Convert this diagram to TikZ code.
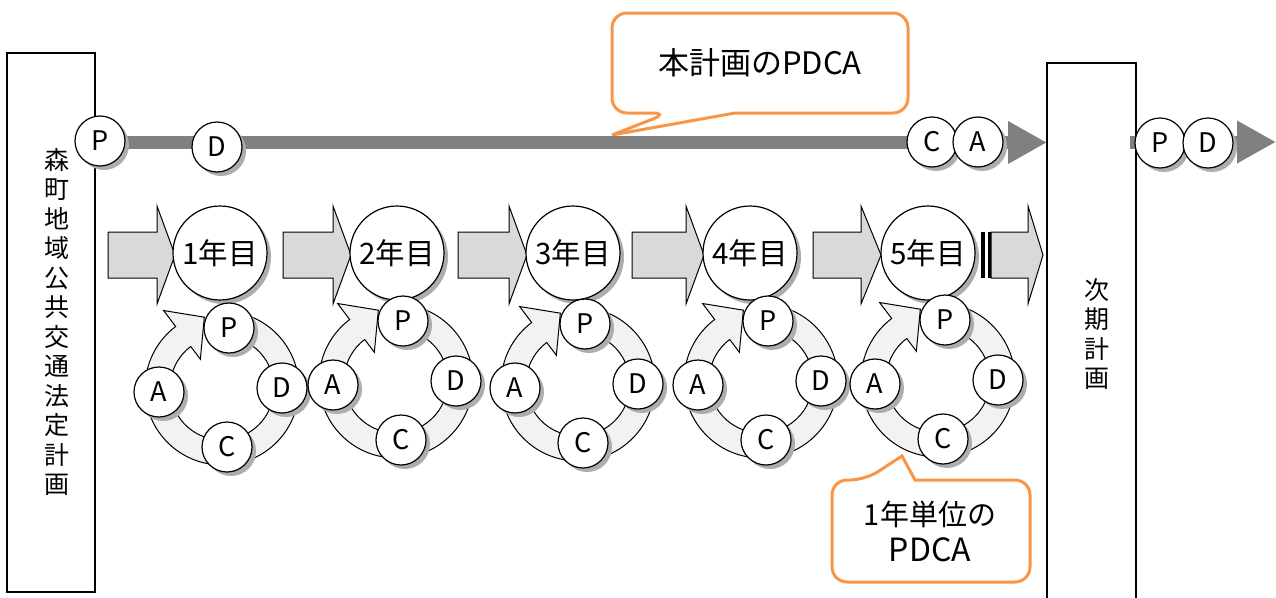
\documentclass[tikz,border=0pt]{standalone}
\usepackage{fontspec}
\setmainfont{Noto Sans CJK JP}
\usetikzlibrary{shadows,arrows.meta}
\definecolor{callorange}{HTML}{F79646}
\definecolor{linegray}{HTML}{808080}
\definecolor{arrowfill}{HTML}{D9D9D9}
\definecolor{ringfill}{HTML}{F2F2F2}
\newcommand\pdcacycle[3]{%
  \begin{scope}[shift={(#2,#3)}]
    \draw[ring] (85:77pt) arc[start angle=85,end angle=-233,radius=77pt]
      -- (-233:97pt) -- (-256:73pt) -- (-233:36pt) -- (-233:52pt)
      arc[start angle=-233,end angle=85,radius=52pt] -- cycle;
    \node[letterc] (#1P) at (7,-60) {P};
    \node[letterc] (#1D) at (60,0) {D};
    \node[letterc] (#1C) at (5,59) {C};
    \node[letterc] (#1A) at (-63,4) {A};
  \end{scope}}
\newcommand\blockarr[3]{%
  \draw[blockarrow] (#1,232) -- (#2,232) -- (#2,206) -- (#3,255) -- (#2,304) -- (#2,278) -- (#1,278) -- cycle;}
\begin{document}
\begin{tikzpicture}[x=1pt,y=-1pt,
  shadowed/.style={drop shadow={shadow xshift=4pt,shadow yshift=-4pt,fill=black!32,opacity=1}},
  letterc/.style={circle,draw=black,line width=1.2pt,fill=white,minimum size=50pt,inner sep=0pt,
    font=\fontsize{27}{27}\selectfont,shadowed},
  yearc/.style={circle,draw=black,line width=1.2pt,fill=white,minimum size=94pt,inner sep=0pt,
    font=\fontsize{29.5}{29.5}\selectfont,shadowed},
  blockarrow/.style={draw=black,line width=1pt,fill=arrowfill},
  ring/.style={draw=black,line width=1pt,fill=ringfill},
  callout/.style={draw=callorange,line width=3pt,fill=white},
  planbox/.style={draw=black,line width=1.2pt,fill=white},
  vtext/.style={align=center,font=\fontsize{25}{29.5}\selectfont,inner sep=0pt},
  timeline/.style={draw=linegray,line width=13pt,-{Triangle[length=39pt,width=40pt]}},
]
\useasboundingbox (0,0) rectangle (1276,597);
% plan boxes
\node[planbox,minimum width=88pt,minimum height=539pt,inner sep=0pt] (lbox) at (51,322.5) {};
\node[vtext] (ltext) at (57,322) {森\\町\\地\\域\\公\\共\\交\\通\\法\\定\\計\\画};
\draw[planbox] (1047,605) -- (1047,63) -- (1136,63) -- (1136,605);
\coordinate (rbox) at (1091,63);
\node[vtext] (rtext) at (1097,334) {次\\期\\計\\画};
% callout 1
\draw[callout,rounded corners=15pt] (760,13) -- (612,13) -- (612,113) -- (668,113)
  [sharp corners] -- (612,135) -- (735,113) -- (745,113)
  [rounded corners=15pt] -- (908,113) -- (908,13) -- cycle;
\node[font=\fontsize{31}{31}\selectfont] (c1text) at (760,63) {本計画のPDCA};
% timeline top
\coordinate (tstart) at (95,142.5);
\coordinate (tend) at (1047,142.5);
\draw[timeline] (tstart) -- (tend);
\node[letterc] (tP) at (100,141) {P};
\node[letterc] (tD) at (217,147) {D};
\node[letterc] (tC) at (932,142) {C};
\node[letterc] (tA) at (978,142) {A};
% next timeline
\coordinate (nstart) at (1130,142);
\coordinate (nend) at (1276,142);
\draw[timeline] (nstart) -- (nend);
\node[letterc] (nP) at (1160,143) {P};
\node[letterc] (nD) at (1208,143) {D};
% block arrows
\blockarr{108}{157}{175}
\blockarr{283}{333}{351}
\blockarr{458}{509}{527}
\blockarr{632}{686}{704}
\blockarr{813}{861}{881}
\fill[black] (981,232) rectangle (985,278);
\fill[black] (988,232) rectangle (991,278);
\blockarr{991}{1028}{1043}
% year circles
\node[yearc] (y1) at (220,253) {1年目};
\node[yearc] (y2) at (397,253) {2年目};
\node[yearc] (y3) at (573,253) {3年目};
\node[yearc] (y4) at (750,253) {4年目};
\node[yearc] (y5) at (928,253) {5年目};
% cycles
\pdcacycle{a}{222}{388}
\pdcacycle{b}{396}{381}
\pdcacycle{c}{578}{384}
\pdcacycle{d}{761}{381}
\pdcacycle{e}{938}{380}
% callout 2
\draw[callout,rounded corners=15pt] (930,582) -- (832,582) -- (832,480) -- (865,480)
  [sharp corners] -- (902,456) -- (915,480) -- (925,480)
  [rounded corners=15pt] -- (1030,480) -- (1030,582) -- cycle;
\node[align=center,font=\fontsize{29}{36}\selectfont] (c2text) at (930,531) {1年単位の\\{\fontsize{32}{36}\selectfont PDCA}};
\end{tikzpicture}
\end{document}
